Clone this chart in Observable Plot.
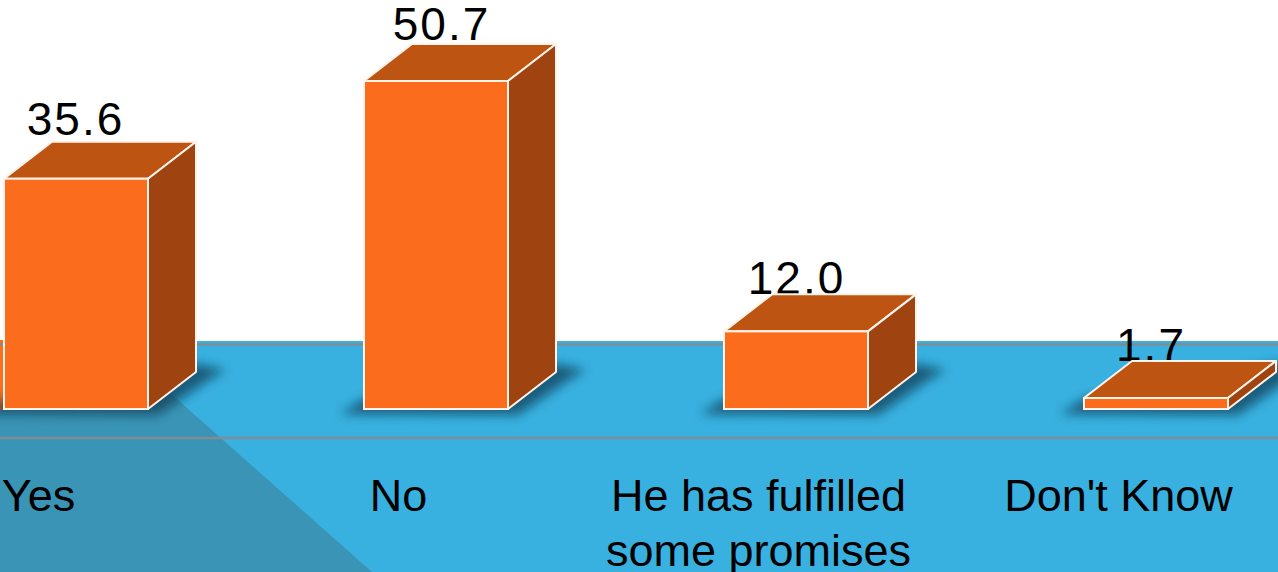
<!DOCTYPE html>
<html>
<head>
<meta charset="utf-8">
<script src="https://cdn.jsdelivr.net/npm/d3@7"></script>
<script src="https://cdn.jsdelivr.net/npm/@observablehq/plot@0.6"></script>
<style>
  html, body { margin: 0; padding: 0; width: 1278px; height: 572px; overflow: hidden; background: #fff; }
  #stage { position: relative; width: 1278px; height: 572px; overflow: hidden;
           background: linear-gradient(#fff 0 341px, #39b1e0 341px); }
  #wedge { position: absolute; inset: 0; background: #3a94b5;
           clip-path: polygon(0 393px, 170px 393px, 372px 572px, 0 572px); }
  #sliver { position: absolute; left: 0; top: 340px; width: 3px; height: 70px; background: #f96f1e; }
  #stage svg { position: absolute; left: 0; top: 0; }
</style>
</head>
<body>
<div id="stage"><div id="wedge"></div><div id="sliver"></div></div>
<script>
const categories = ["Yes", "No", "He has fulfilled\nsome promises", "Don't Know"];
const values = [35.6, 50.7, 12.0, 1.7];
const valueLabels = ["35.6", "50.7", "12.0", "1.7"];
const floorLines = [10.05, -4.4];

const rows = categories.map((category, i) => ({category, value: values[i], label: valueLabels[i]}));

const depthX = 48, depthY = -37;
const colors = {front: "#fb6d1c", top: "#bd5412", side: "#9f4410", edge: "#fff3ea"};
const nudges = [[-1, -44], [5, -42], [0, -38], [-5.5, -38]];
const font = "'Liberation Sans', Arial, sans-serif";

function poly(parent, pts, attrs) {
  const p = parent.append("polygon").attr("points", pts.map(d => d.join(",")).join(" "));
  for (const k in attrs) p.attr(k, attrs[k]);
  return p;
}

// Blurred contact shadow under every box, through the chart's scales
function shadows(index, scales) {
  const svg = d3.create("svg:g");
  const id = "box-blur";
  svg.append("filter").attr("id", id).attr("x", "-20%").attr("y", "-50%").attr("width", "140%").attr("height", "200%")
    .append("feGaussianBlur").attr("stdDeviation", 5.5);
  const bw = scales.x.bandwidth();
  for (const r of rows) {
    const x0 = scales.x(r.category), x1 = x0 + bw, b = scales.y(0);
    poly(svg, [[x0 - 24, b + 5], [x1 + 10, b + 6], [x1 + depthX + 14, b + depthY + 7],
               [x1 + depthX + 30, b + depthY - 2], [x1 + depthX, b + depthY - 8], [x0, b - 10]],
         {fill: "#0d3a52", opacity: 0.72, filter: `url(#${id})`});
  }
  return svg.node();
}

// Top and side faces of every box, offset from the scaled front face
function faces(index, scales) {
  const svg = d3.create("svg:g");
  const bw = scales.x.bandwidth();
  const stroke = {stroke: colors.edge, "stroke-width": 2, "stroke-linejoin": "round"};
  for (const r of rows) {
    const x0 = scales.x(r.category), x1 = x0 + bw, t = scales.y(r.value), b = scales.y(0);
    poly(svg, [[x0, t], [x1, t], [x1 + depthX, t + depthY], [x0 + depthX, t + depthY]],
         {fill: colors.top, ...stroke});
    poly(svg, [[x1, t], [x1 + depthX, t + depthY], [x1 + depthX, b + depthY], [x1, b]],
         {fill: colors.side, ...stroke});
  }
  return svg.node();
}

const chart = Plot.plot({
  width: 1278,
  height: 572,
  margin: 0,
  style: {background: "transparent", fontFamily: font},
  x: {domain: categories, range: [-104, 1336], paddingInner: 0.6, paddingOuter: 0.3, axis: null},
  y: {domain: [0, 50.7], range: [409, 81], axis: null},
  marks: [
    Plot.ruleY(floorLines, {stroke: "#7f8c95", strokeWidth: 2.5}),
    shadows,
    ...rows.map((r, i) => Plot.text([r], {
      x: "category", y: "value", text: "label",
      dx: nudges[i][0], dy: nudges[i][1],
      lineAnchor: "bottom", fontSize: 46, fill: "#000"
    })),
    faces,
    Plot.barY(rows, {x: "category", y: "value", fill: colors.front, stroke: colors.edge, strokeWidth: 2}),
    Plot.text(rows, {
      x: "category", y: () => 0, text: "category",
      dx: -38, dy: 62, lineAnchor: "top", lineHeight: 1.23,
      fontSize: 45, fill: "#000"
    })
  ]
});
d3.select(chart).selectAll("text").filter(function () { return /^[\d.]+$/.test(this.textContent); })
  .attr("letter-spacing", "2");
document.getElementById("stage").appendChild(chart);
</script>
</body>
</html>
